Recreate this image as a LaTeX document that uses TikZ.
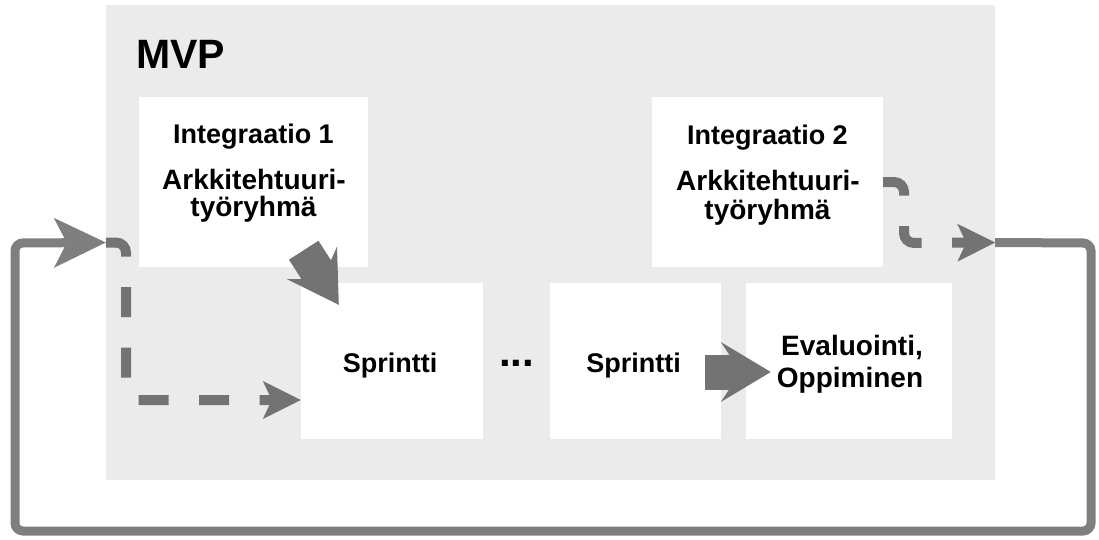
\documentclass[tikz,border=0pt]{standalone}
\usepackage{fontspec}
\setmainfont{Liberation Sans}
\usetikzlibrary{arrows.meta,calc}
\definecolor{panelgray}{HTML}{EBEBEB}
\definecolor{flowgray}{HTML}{737373}
\definecolor{loopgray}{HTML}{7F7F7F}
\begin{document}
\begin{tikzpicture}[x=1pt,y=-1pt,
  panel/.style={fill=white, draw=none, inner sep=0pt},
  txt/.style={anchor=base, inner sep=0pt, font=\bfseries\fontsize{28}{32}\selectfont},
  smalltxt/.style={txt, font=\bfseries\fontsize{27}{31}\selectfont},
  sprinttxt/.style={txt, font=\bfseries\fontsize{27}{31}\selectfont},
  dashflow/.style={draw=flowgray, line width=10pt, dash pattern=on 30pt off 30.5pt,
    rounded corners=10pt, -{Stealth[length=38pt,width=38pt,inset=9pt,line width=0pt]}},
  loopflow/.style={draw=loopgray, line width=9pt, rounded corners=8pt,
    -{Stealth[length=52pt,width=50pt,inset=13pt,line width=0pt]}},
  bigflow/.style={draw=flowgray, line width=35pt,
    -{Stealth[length=50pt,width=60pt,inset=20pt,line width=0pt]}}
]
\useasboundingbox (0,0) rectangle (1099,539);

% MVP container
\node[fill=panelgray, inner sep=0pt, minimum width=889pt, minimum height=475pt] (mvp) at (550.5,242.5) {};
\node[anchor=base west, inner sep=0pt, font=\bfseries\fontsize{41}{49}\selectfont] (mvptitle) at (136,68) {MVP};

% panels
\node[panel, minimum width=229pt, minimum height=170pt] (int1) at (253.5,182) {};
\node[panel, minimum width=231pt, minimum height=170pt] (int2) at (767.5,182) {};
\node[panel, minimum width=182pt, minimum height=156pt] (s1) at (392,361) {};
\node[panel, minimum width=171pt, minimum height=156pt] (s2) at (635.5,361) {};
\node[panel, minimum width=206pt, minimum height=156pt] (eval) at (849,361) {};

% panel texts
\node[smalltxt] (int1a) at (253.5,143) {Integraatio 1};
\node[txt] (int1b) at (254,189) {Arkkitehtuuri-};
\node[txt] (int1c) at (253.5,216) {työryhmä};
\node[smalltxt] (int2a) at (767.5,144) {Integraatio 2};
\node[txt] (int2b) at (768,190) {Arkkitehtuuri-};
\node[txt] (int2c) at (767.5,219) {työryhmä};
\node[sprinttxt] (s1t) at (390,372) {Sprintti};
\node[sprinttxt] (s2t) at (633.5,372) {Sprintti};
\node[txt] (evala) at (852,355) {Evaluointi,};
\node[txt] (evalb) at (850,387) {Oppiminen};
\node[anchor=base, inner sep=0pt, font=\bfseries\fontsize{42}{50}\selectfont] (dots) at (516.5,366) {...};

% feedback loop around the MVP
\draw[loopflow] (mvp.east) -- (1091,243) -- (1091,531) -- (15,531) -- (15,243) -- (mvp.west);

% dashed flows
\draw[dashflow] (mvp.west) -| (126,400) -- ($(s1.west)+(0,39)$);
\draw[dashflow] (int2.east) -| (904,243) -- (mvp.east);

% block arrows
\draw[bigflow] ($(int1.south east)+(-64.5,-17)$) -- ($(s1.north west)+(38,22)$);
\draw[bigflow] ($(s2.east)+(-16,11)$) -- ($(eval.west)+(25,11)$);
\end{tikzpicture}
\end{document}
